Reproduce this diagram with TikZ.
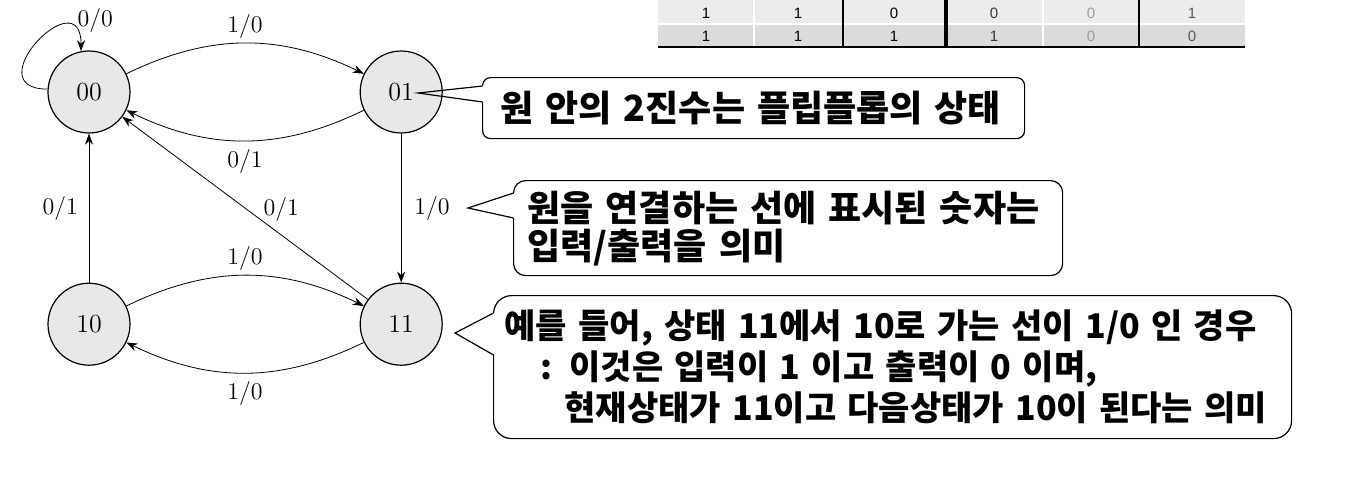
\documentclass[tikz,border=0pt]{standalone}
\usepackage{fontspec}
\newfontfamily\kor{Noto Sans CJK KR}
\newfontfamily\tabfont{Liberation Sans}
\usetikzlibrary{arrows.meta, positioning, calc}

\begin{document}
\begin{tikzpicture}[x=0.5pt, y=-0.5pt, >={Stealth[length=5.5pt,width=4pt]}, font=\fontsize{12}{14}\selectfont,
    state/.style={circle, draw, line width=0.6pt, fill=gray!18, minimum size=41pt, inner sep=0pt, font=\fontsize{13}{15}\selectfont},
    notebox/.style={draw, line width=0.6pt, fill=white, rounded corners=6pt, anchor=north west, align=left, font=\kor\bfseries\fontsize{18}{19}\selectfont},
    tabcell/.style={font=\tabfont\fontsize{7.5}{9}\selectfont}]
    \useasboundingbox (0,0) rectangle (1362,488);

    % table (cut off at the top)
    \fill[gray!15] (658,0) rectangle (1245,24);
    \fill[gray!28] (658,24) rectangle (1245,47);
    \draw[white, line width=1pt] (658,24) -- (1245,24);
    \draw[white, line width=1pt] (754,0) -- (754,47);
    \draw[white, line width=1pt] (1043,0) -- (1043,47);
    \draw[line width=0.8pt] (843,0) -- (843,47);
    \draw[line width=2pt] (946,0) -- (946,47);
    \draw[line width=0.8pt] (1139,0) -- (1139,47);
    \draw[line width=1.3pt] (658,47) -- (1245,47);
    \node[tabcell] (ta1) at (706,13) {1};
    \node[tabcell] (ta2) at (798,13) {1};
    \node[tabcell] (ta3) at (894,13) {0};
    \node[tabcell, text=black!80] (ta4) at (994,13) {0};
    \node[tabcell, text=gray!80] (ta5) at (1091,13) {0};
    \node[tabcell, text=black!65] (ta6) at (1192,13) {1};
    \node[tabcell] (tb1) at (706,36) {1};
    \node[tabcell] (tb2) at (798,36) {1};
    \node[tabcell] (tb3) at (894,36) {1};
    \node[tabcell, text=black!80] (tb4) at (994,36) {1};
    \node[tabcell, text=gray!80] (tb5) at (1091,36) {0};
    \node[tabcell, text=black!65] (tb6) at (1192,36) {0};

    % state diagram
    \node[state] (s00) at (89,92) {00};
    \node[state, right=114.5pt of s00] (s01) {01};
    \node[state, below=74.5pt of s00] (s10) {10};
    \node[state, right=114.5pt of s10] (s11) {11};
    \draw[->] (s00.176) to[out=180, in=90, looseness=3.7] node[pos=0.8, right, yshift=3pt] {0/0} (s00.101);
    \draw[->] (s00) to[bend left=26] node[above=-1pt] {1/0} (s01);
    \draw[->] (s01) to[bend left=26] node[below=1pt] {0/1} (s00);
    \draw[->] (s10) to[bend left=26] node[above=-1pt] {1/0} (s11);
    \draw[->] (s11) to[bend left=26] node[below=1pt] {1/0} (s10);
    \draw[->] (s10) -- node[left=2pt] {0/1} (s00);
    \draw[->] (s01) -- node[right=3pt] {1/0} (s11);
    \draw[->] (s11) -- node[pos=0.47, right=2pt, yshift=2pt] {0/1} (s00);

    % callouts
    \node[notebox, rounded corners=4pt, minimum height=30.5pt, text width=253pt, inner xsep=9pt] (n1) at (482,77) {원 안의 2진수는 플립플롭의 상태};
    \node[notebox, minimum height=47.5pt, text width=260.5pt, inner xsep=7pt] (n2) at (513,180) {원을 연결하는 선에 표시된 숫자는\\입력/출력을 의미};
    \node[notebox, rounded corners=9pt, minimum height=71.5pt, text width=388pt, inner xsep=5.5pt, font=\kor\bfseries\fontsize{17}{20.5}\selectfont] (n3) at (493,295) {예를 들어, 상태 11에서 10로 가는 선이 1/0 인 경우\\\hspace*{18pt}: 이것은 입력이 1 이고 출력이 0 이며,\\\hspace*{30pt}현재상태가 11이고 다음상태가 10이 된다는 의미};

    \coordinate (p1) at (418,93);
    \coordinate (p2) at (468,208);
    \coordinate (p3) at (455,333);
    \draw[white, line width=1.2pt] ($(n1.north west)+(0.6,9)$) -- ($(n1.north west)+(0.6,25)$);
    \draw[line width=0.6pt] ($(n1.north west)+(0.6,9)$) -- (p1) -- ($(n1.north west)+(0.6,25)$);
    \draw[white, line width=1.2pt] ($(n2.north west)+(0.6,13)$) -- ($(n2.north west)+(0.6,38)$);
    \draw[line width=0.6pt] ($(n2.north west)+(0.6,13)$) -- (p2) -- ($(n2.north west)+(0.6,38)$);
    \draw[white, line width=1.2pt] ($(n3.north west)+(0.6,18)$) -- ($(n3.north west)+(0.6,60)$);
    \draw[line width=0.6pt] ($(n3.north west)+(0.6,18)$) -- (p3) -- ($(n3.north west)+(0.6,60)$);
\end{tikzpicture}
\end{document}
